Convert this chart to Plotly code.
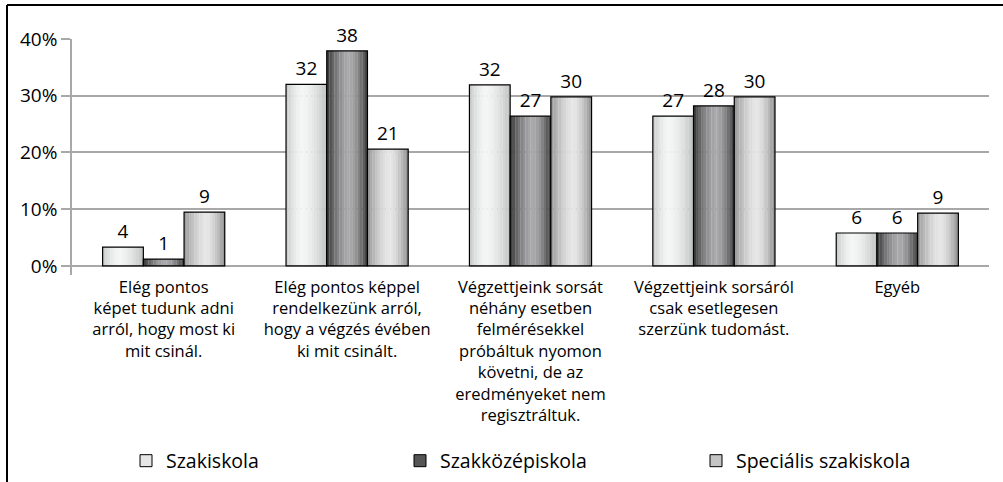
import plotly.graph_objects as go

categories = [
    "Elég pontos<br>képet tudunk adni<br>arról, hogy most ki<br>mit csinál.",
    "Elég pontos képpel<br>rendelkezünk arról,<br>hogy a végzés évében<br>ki mit csinált.",
    "Végzettjeink sorsát<br>néhány esetben<br>felmérésekkel<br>próbáltuk nyomon<br>követni, de az<br>eredményeket nem<br>regisztráltuk.",
    "Végzettjeink sorsáról<br>csak esetlegesen<br>szerzünk tudomást.",
    "Egyéb",
]
series_names = ["Szakiskola", "Szakközépiskola", "Speciális szakiskola"]
szakiskola = [3.3, 32.0, 31.9, 26.4, 5.8]
szakkozep = [1.2, 37.9, 26.4, 28.2, 5.8]
specialis = [9.5, 20.6, 29.8, 29.8, 9.3]
label_szakiskola = [4, 32, 32, 27, 6]
label_szakkozep = [1, 38, 27, 28, 6]
label_specialis = [9, 21, 30, 30, 9]
y_tickvals = [0, 10, 20, 30, 40]
y_ticktext = ["0%", "10%", "20%", "30%", "40%"]

values = [szakiskola, szakkozep, specialis]
labels = [label_szakiskola, label_szakkozep, label_specialis]

# gradient styles: (left edge, centre, right edge, centre position)
grad = [
    ((200, 202, 202), (244, 245, 245), (190, 192, 192), 0.40),
    ((52, 52, 52), (170, 170, 172), (58, 58, 58), 0.55),
    ((150, 150, 150), (230, 230, 230), (140, 140, 140), 0.55),
]
legend_colors = ["#e6e6e6", "#555555", "#c4c4c4"]

W = 0.222
N = 16
FONT = "'Open Sans', Lato, sans-serif"

fig = go.Figure()

def mix(a, b, p):
    return "rgb(%d,%d,%d)" % tuple(round(a[i] + (b[i] - a[i]) * p) for i in range(3))

for s in range(3):
    left, centre, right, c = grad[s]
    base_off = -1.5 * W + s * W
    for j in range(N):
        t = (j + 0.5) / N
        if t < c:
            d = (c - t) / c
            col = mix(centre, left, d ** 1.6)
        else:
            d = (t - c) / (1 - c)
            col = mix(centre, right, d ** 1.6)
        fig.add_trace(go.Bar(
            x=categories, y=values[s], width=W / N * 1.08,
            offset=base_off + j * W / N,
            marker=dict(color=col, line=dict(width=0)),
            showlegend=False, hoverinfo="skip",
        ))
    fig.add_trace(go.Bar(
        x=categories, y=values[s], width=W, offset=base_off,
        marker=dict(color="rgba(0,0,0,0)", line=dict(color="black", width=1.2)),
        text=labels[s], textposition="outside", cliponaxis=False,
        textfont=dict(size=19, color="black", family=FONT),
        showlegend=False, name=series_names[s],
    ))

legend_ids = ["legend", "legend2", "legend3"]
for s in range(3):
    fig.add_trace(go.Bar(
        x=[None], y=[None], name=series_names[s],
        marker=dict(color=legend_colors[s], line=dict(color="black", width=1)),
        legend=legend_ids[s], showlegend=True,
    ))

WIDTH, HEIGHT = 1003, 482
L, R, T, B = 72, 14, 39, 207
pw = WIDTH - L - R
ph = HEIGHT - T - B

def px_x(px):
    return (px - L) / pw

def px_y(py):
    return (HEIGHT - B - py) / ph

leg_common = dict(orientation="h", yanchor="middle", xanchor="left",
                  xref="container", yref="container",
                  font=dict(size=19.5, color="black", family=FONT),
                  bgcolor="rgba(0,0,0,0)")
leg_y = 1 - 461 / HEIGHT
fig.update_layout(
    legend=dict(x=126 / WIDTH, y=leg_y, **leg_common),
    legend2=dict(x=400 / WIDTH, y=leg_y, **leg_common),
    legend3=dict(x=696 / WIDTH, y=leg_y, **leg_common),
)

fig.update_layout(
    width=WIDTH, height=HEIGHT,
    margin=dict(l=L, r=R, t=T, b=B, autoexpand=False),
    paper_bgcolor="white", plot_bgcolor="white",
    barmode="overlay",
    font=dict(family=FONT, color="black"),
    xaxis=dict(
        range=[-0.5, 4.5], automargin=False,
        showline=False, ticks="", showgrid=False,
        tickfont=dict(size=16.5, color="black", family=FONT),
        tickangle=0, ticklabelstandoff=0,
    ),
    yaxis=dict(
        range=[-1.6, 40], tickvals=y_tickvals, ticktext=y_ticktext,
        automargin=False,
        showgrid=True, gridcolor="#a8a8a8", gridwidth=1.5,
        zeroline=True, zerolinecolor="#a8a8a8", zerolinewidth=1.5,
        showline=True, linecolor="#a8a8a8", linewidth=1.5,
        ticks="outside", ticklen=9, tickcolor="#a8a8a8", tickwidth=1.5,
        tickfont=dict(size=19, color="black", family=FONT),
    ),
    shapes=[
        dict(type="line", xref="paper", yref="paper",
             x0=px_x(7), x1=px_x(7), y0=px_y(5), y1=px_y(500),
             line=dict(color="black", width=2)),
        dict(type="line", xref="paper", yref="paper",
             x0=px_x(7), x1=px_x(1010), y0=px_y(5), y1=px_y(5),
             line=dict(color="black", width=2)),
    ],
)

fig.write_html("out.html", config={"displayModeBar": False},
               post_script="document.body.style.margin='0';")
